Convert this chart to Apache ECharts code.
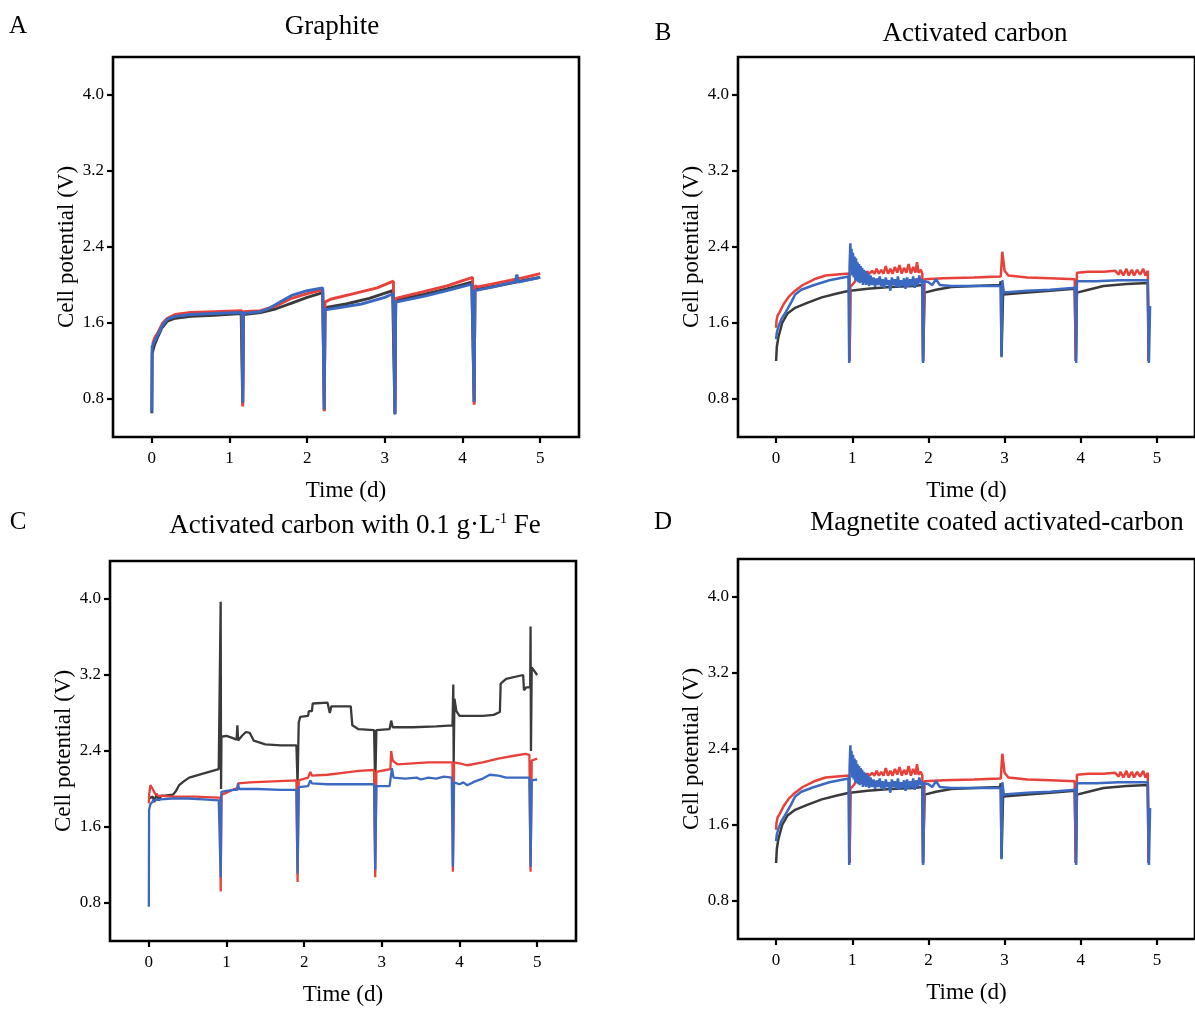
<!DOCTYPE html>
<html><head><meta charset="utf-8">
<script src="https://cdn.jsdelivr.net/npm/echarts@6/dist/echarts.min.js"></script>
<style>html,body{margin:0;padding:0;background:#fff}#c{width:1195px;height:1009px}</style>
</head><body><div id="c"></div>
<script>
// ---- tick labels ----
const xTicks = [0, 1, 2, 3, 4, 5];
const yTicks = [0.8, 1.6, 2.4, 3.2, 4.0];
const panelTitles = ['Graphite', 'Activated carbon', 'Activated carbon with 0.1 g·L-1 Fe', 'Magnetite coated activated-carbon'];
const panelLetters = ['A', 'B', 'C', 'D'];
const xName = 'Time (d)';
const yName = 'Cell potential (V)';

// ---- Panel A: Graphite ----
const graphiteBlack = [[0,0.65],[0.005,1.28],[0.03,1.36],[0.08,1.46],[0.13,1.55],[0.2,1.62],[0.3,1.65],[0.5,1.67],[0.8,1.68],[1.15,1.70],[1.17,0.75],[1.18,1.69],[1.4,1.71],[1.6,1.75],[1.8,1.81],[2.0,1.87],[2.2,1.92],[2.22,0.68],[2.23,1.76],[2.5,1.80],[2.8,1.86],[3.1,1.94],[3.13,0.64],[3.14,1.84],[3.5,1.90],[3.8,1.96],[4.12,2.03],[4.15,0.77],[4.16,1.95],[4.5,2.00],[4.8,2.05],[5.0,2.08]];
const graphiteRed = [[0.01,1.38],[0.04,1.45],[0.08,1.50],[0.14,1.60],[0.2,1.65],[0.3,1.69],[0.5,1.71],[0.8,1.72],[1.16,1.73],[1.17,0.72],[1.18,1.72],[1.4,1.73],[1.6,1.78],[1.8,1.86],[2.0,1.91],[2.2,1.95],[2.22,0.67],[2.23,1.82],[2.3,1.85],[2.6,1.91],[2.9,1.97],[3.11,2.04],[3.13,0.66],[3.14,1.86],[3.5,1.93],[3.8,1.99],[4.13,2.08],[4.15,0.74],[4.16,1.99],[4.2,1.98],[4.5,2.03],[4.8,2.08],[5.0,2.12]];
const graphiteBlue = [[0,0.66],[0.003,1.35],[0.03,1.40],[0.08,1.48],[0.14,1.58],[0.2,1.64],[0.3,1.67],[0.5,1.69],[0.8,1.70],[1.16,1.71],[1.17,0.76],[1.18,1.70],[1.4,1.72],[1.5,1.75],[1.65,1.82],[1.8,1.89],[2.0,1.94],[2.2,1.97],[2.22,0.69],[2.23,1.74],[2.4,1.76],[2.7,1.80],[3.0,1.87],[3.11,1.91],[3.13,0.64],[3.14,1.82],[3.5,1.88],[3.8,1.94],[4.12,2.01],[4.15,0.77],[4.16,1.94],[4.4,1.98],[4.6,2.02],[4.68,2.03],[4.7,2.11],[4.72,2.03],[5.0,2.08]];

// ---- Panel B: Activated carbon ----
const acBlack = [[0,1.20],[0.01,1.35],[0.03,1.45],[0.08,1.60],[0.15,1.70],[0.25,1.76],[0.4,1.81],[0.6,1.87],[0.8,1.91],[0.96,1.94],[0.965,1.20],[0.975,1.94],[1.2,1.96],[1.5,1.98],[1.8,1.99],[1.92,2.00],[1.93,1.20],[1.95,1.92],[2.1,1.95],[2.3,1.98],[2.6,1.99],[2.94,2.00],[2.95,2.04],[2.96,1.25],[2.98,1.90],[3.3,1.92],[3.6,1.94],[3.92,1.96],[3.935,1.20],[3.95,1.92],[4.1,1.95],[4.3,1.99],[4.6,2.01],[4.88,2.02],[4.89,1.20]];
const acRed = [[0,1.55],[0.005,1.62],[0.02,1.68],[0.05,1.72],[0.1,1.80],[0.17,1.88],[0.25,1.94],[0.35,2.00],[0.5,2.06],[0.65,2.10],[0.8,2.11],[0.96,2.12],[0.965,1.20],[0.975,1.98],[1.0,2.00],[1.03,2.03],[1.06,2.08],[1.1,2.11],[1.13,2.13],[1.16,2.11],[1.2,2.14],[1.23,2.12],[1.26,2.15],[1.29,2.12],[1.32,2.17],[1.35,2.12],[1.38,2.16],[1.41,2.12],[1.44,2.20],[1.47,2.12],[1.5,2.17],[1.53,2.12],[1.56,2.19],[1.59,2.13],[1.62,2.21],[1.65,2.12],[1.68,2.18],[1.71,2.13],[1.74,2.22],[1.77,2.12],[1.8,2.19],[1.83,2.13],[1.85,2.24],[1.87,2.13],[1.9,2.16],[1.92,2.12],[1.93,1.20],[1.95,2.06],[2.2,2.07],[2.6,2.08],[2.95,2.09],[2.97,2.35],[3.0,2.15],[3.05,2.10],[3.3,2.08],[3.6,2.07],[3.92,2.06],[3.935,1.20],[3.95,2.13],[4.1,2.14],[4.3,2.14],[4.45,2.15],[4.5,2.11],[4.52,2.16],[4.56,2.10],[4.6,2.17],[4.63,2.10],[4.67,2.16],[4.7,2.10],[4.74,2.16],[4.78,2.11],[4.82,2.17],[4.85,2.10],[4.88,2.15],[4.89,1.20]];
const acBlue = [[0,1.43],[0.01,1.50],[0.03,1.56],[0.07,1.64],[0.13,1.72],[0.2,1.82],[0.25,1.90],[0.33,1.95],[0.5,2.00],[0.7,2.05],[0.95,2.09],[0.96,1.18],[0.965,2.20],[0.975,2.44],[0.985,2.20],[0.99,2.38],[1.0,2.10],[1.01,2.34],[1.02,2.08],[1.03,2.30],[1.04,2.05],[1.05,2.28],[1.06,2.04],[1.07,2.24],[1.08,2.03],[1.09,2.22],[1.10,2.02],[1.11,2.20],[1.12,2.03],[1.13,2.18],[1.14,2.00],[1.15,2.16],[1.16,2.02],[1.17,2.15],[1.18,2.00],[1.19,2.13],[1.2,2.01],[1.21,2.12],[1.22,1.99],[1.24,2.10],[1.26,2.00],[1.28,2.08],[1.3,1.98],[1.32,2.07],[1.34,2.00],[1.36,2.09],[1.38,1.99],[1.4,2.06],[1.42,1.97],[1.44,2.08],[1.46,2.00],[1.48,2.05],[1.5,1.94],[1.52,2.08],[1.54,2.00],[1.56,2.06],[1.58,1.98],[1.6,2.09],[1.62,1.97],[1.64,2.05],[1.66,1.99],[1.68,2.07],[1.7,1.96],[1.72,2.08],[1.74,1.98],[1.76,2.06],[1.78,1.99],[1.8,2.09],[1.82,1.97],[1.84,2.07],[1.86,2.00],[1.88,2.10],[1.9,2.02],[1.92,2.06],[1.93,1.18],[1.94,2.04],[2.0,2.03],[2.05,2.00],[2.1,2.06],[2.15,2.00],[2.3,1.99],[2.6,1.99],[2.95,1.99],[2.96,1.24],[2.97,2.05],[2.99,1.92],[3.3,1.94],[3.6,1.95],[3.93,1.97],[3.94,1.18],[3.95,2.04],[4.2,2.04],[4.5,2.05],[4.88,2.05],[4.895,1.18],[4.91,1.78]];

// ---- Panel C: Activated carbon with 0.1 g/L Fe ----
const feBlack = [[0,1.90],[0.05,1.92],[0.07,1.86],[0.1,1.95],[0.13,1.88],[0.16,1.93],[0.2,1.93],[0.31,1.94],[0.35,1.98],[0.39,2.04],[0.45,2.08],[0.52,2.12],[0.73,2.17],[0.9,2.21],[0.925,3.97],[0.93,2.00],[0.935,2.55],[1.0,2.56],[1.1,2.53],[1.13,2.52],[1.14,2.67],[1.15,2.51],[1.2,2.56],[1.25,2.60],[1.3,2.59],[1.35,2.51],[1.5,2.47],[1.7,2.46],[1.9,2.46],[1.915,2.05],[1.93,2.70],[1.95,2.76],[2.05,2.77],[2.06,2.82],[2.1,2.82],[2.11,2.90],[2.3,2.91],[2.32,2.91],[2.33,2.80],[2.35,2.87],[2.6,2.87],[2.62,2.67],[2.7,2.63],[2.9,2.62],[2.915,2.03],[2.93,2.62],[3.1,2.63],[3.12,2.72],[3.14,2.65],[3.4,2.65],[3.7,2.66],[3.91,2.67],[3.92,3.10],[3.925,2.27],[3.935,2.95],[3.96,2.82],[4.0,2.77],[4.3,2.77],[4.44,2.78],[4.52,2.81],[4.53,3.11],[4.6,3.16],[4.82,3.20],[4.83,3.04],[4.86,3.07],[4.91,3.07],[4.915,3.71],[4.92,2.40],[4.93,3.28],[5.0,3.20]];
const feRed = [[0,1.85],[0.005,1.95],[0.02,2.04],[0.05,2.00],[0.08,1.95],[0.12,1.93],[0.3,1.92],[0.6,1.92],[0.89,1.91],[0.92,1.91],[0.925,0.92],[0.935,1.94],[1.0,1.96],[1.1,2.00],[1.14,2.01],[1.15,2.06],[1.3,2.07],[1.6,2.08],[1.9,2.09],[1.915,1.02],[1.93,2.09],[2.05,2.12],[2.07,2.12],[2.08,2.18],[2.1,2.14],[2.3,2.15],[2.5,2.17],[2.7,2.19],[2.9,2.20],[2.915,1.07],[2.93,2.18],[3.05,2.20],[3.11,2.21],[3.12,2.40],[3.14,2.30],[3.2,2.26],[3.4,2.27],[3.6,2.28],[3.91,2.28],[3.915,1.13],[3.93,2.28],[4.0,2.27],[4.1,2.25],[4.3,2.28],[4.5,2.32],[4.7,2.35],[4.85,2.37],[4.9,2.36],[4.915,1.13],[4.93,2.30],[5.0,2.32]];
const feBlue = [[0,0.76],[0.003,1.78],[0.02,1.84],[0.06,1.88],[0.15,1.89],[0.3,1.90],[0.5,1.90],[0.7,1.89],[0.9,1.88],[0.92,1.88],[0.925,1.07],[0.935,1.97],[1.0,1.98],[1.1,1.99],[1.14,1.99],[1.15,2.06],[1.16,2.00],[1.4,2.00],[1.7,1.99],[1.9,1.99],[1.915,1.11],[1.93,2.02],[2.05,2.03],[2.07,2.04],[2.08,2.09],[2.1,2.06],[2.3,2.05],[2.6,2.05],[2.9,2.05],[2.915,1.15],[2.93,2.03],[3.1,2.03],[3.12,2.05],[3.13,2.22],[3.15,2.12],[3.3,2.11],[3.45,2.12],[3.5,2.10],[3.6,2.12],[3.7,2.11],[3.8,2.13],[3.9,2.12],[3.915,1.18],[3.93,2.07],[4.0,2.05],[4.05,2.07],[4.1,2.04],[4.2,2.08],[4.3,2.11],[4.39,2.15],[4.5,2.14],[4.6,2.12],[4.9,2.12],[4.915,1.18],[4.93,2.09],[5.0,2.10]];

// ---- Panel D: Magnetite coated activated-carbon (same traces as read in B) ----
const magBlack = acBlack.map(p => p.slice());
const magRed = acRed.map(p => p.slice());
const magBlue = acBlue.map(p => p.slice());

const panelData = [
  [graphiteBlack, graphiteRed, graphiteBlue],
  [acBlack, acRed, acBlue],
  [feBlack, feRed, feBlue],
  [magBlack, magRed, magBlue]
];

// ---- layout / style ----
const FONT = '"Liberation Serif", "Times New Roman", serif';
const lineColors = ['#3a3a3a', '#e8403a', '#3b68c0'];
const lineWidths = [2.9, 2.5, 2.3, 2.5];
const grids = [
  {left: 113, top: 57, width: 466, height: 380},
  {left: 738, top: 57, width: 466, height: 380},
  {left: 110, top: 561, width: 466, height: 380},
  {left: 738, top: 559, width: 466, height: 380}
];
const titlePos = [[332, 25], [975, 32], [355, 521], [997, 521]];
const letterPos = [[18, 25], [663, 32], [18, 521], [663, 521]];

const chart = echarts.init(document.getElementById('c'), null, {renderer: 'canvas'});

const option = {
  animation: false,
  backgroundColor: '#fff',
  grid: grids.map(g => Object.assign({show: true, borderColor: '#000', borderWidth: 2.6, backgroundColor: 'transparent', containLabel: false}, g)),
  xAxis: grids.map((g, i) => ({
    gridIndex: i, type: 'value', min: -0.5, max: 5.5, position: 'bottom',
    name: xName, nameLocation: 'middle', nameGap: 42,
    nameTextStyle: {fontFamily: FONT, fontSize: 23, color: '#000'},
    axisLine: {show: false, onZero: false},
    axisTick: {show: true, inside: false, length: 6, lineStyle: {color: '#000', width: 2.2}, customValues: xTicks},
    axisLabel: {show: true, margin: 13, fontFamily: FONT, fontSize: 17, color: '#000', customValues: xTicks, formatter: v => String(v)},
    splitLine: {show: false}
  })),
  yAxis: grids.map((g, i) => ({
    gridIndex: i, type: 'value', min: 0.4, max: 4.4, position: 'left',
    name: yName, nameLocation: 'middle', nameGap: 33, nameRotate: 90,
    nameTextStyle: {fontFamily: FONT, fontSize: 23, color: '#000'},
    axisLine: {show: false, onZero: false},
    axisTick: {show: true, inside: false, length: 6, lineStyle: {color: '#000', width: 2.2}, customValues: yTicks},
    axisLabel: {show: true, margin: 9, fontFamily: FONT, fontSize: 17, color: '#000', customValues: yTicks, formatter: v => v.toFixed(1)},
    splitLine: {show: false}
  })),
  series: [],
  graphic: []
};

panelData.forEach((arrs, i) => {
  arrs.forEach((d, k) => {
    option.series.push({
      type: 'line', xAxisIndex: i, yAxisIndex: i, data: d,
      showSymbol: false, symbol: 'none', smooth: false,
      lineStyle: {color: lineColors[k], width: lineWidths[i]},
      z: 2 + k
    });
  });
});

titlePos.forEach((p, i) => {
  let style;
  if (i === 2) {
    style = {
      text: '{a|Activated carbon with 0.1 g·L}{s|-1}{a| Fe}',
      rich: {
        a: {fontFamily: FONT, fontSize: 27, lineHeight: 32, fill: '#000', verticalAlign: 'bottom'},
        s: {fontFamily: FONT, fontSize: 14, lineHeight: 32, fill: '#000', verticalAlign: 'bottom', padding: [0, 0, 13, 0]}
      }
    };
  } else {
    style = {text: panelTitles[i], font: '27px ' + FONT, fill: '#000'};
  }
  style.x = 0; style.y = 0;
  style.align = 'center'; style.verticalAlign = 'middle';
  style.textAlign = 'center'; style.textVerticalAlign = 'middle';
  option.graphic.push({type: 'text', x: p[0], y: p[1] + 2, style: style, z: 10});
});
letterPos.forEach((p, i) => {
  option.graphic.push({type: 'text', x: p[0], y: p[1] + 1, z: 10, style: {
    text: panelLetters[i], font: '25px ' + FONT, fill: '#000', x: 0, y: 0,
    align: 'center', verticalAlign: 'middle', textAlign: 'center', textVerticalAlign: 'middle'}});
});

chart.setOption(option);
</script>
</body></html>
